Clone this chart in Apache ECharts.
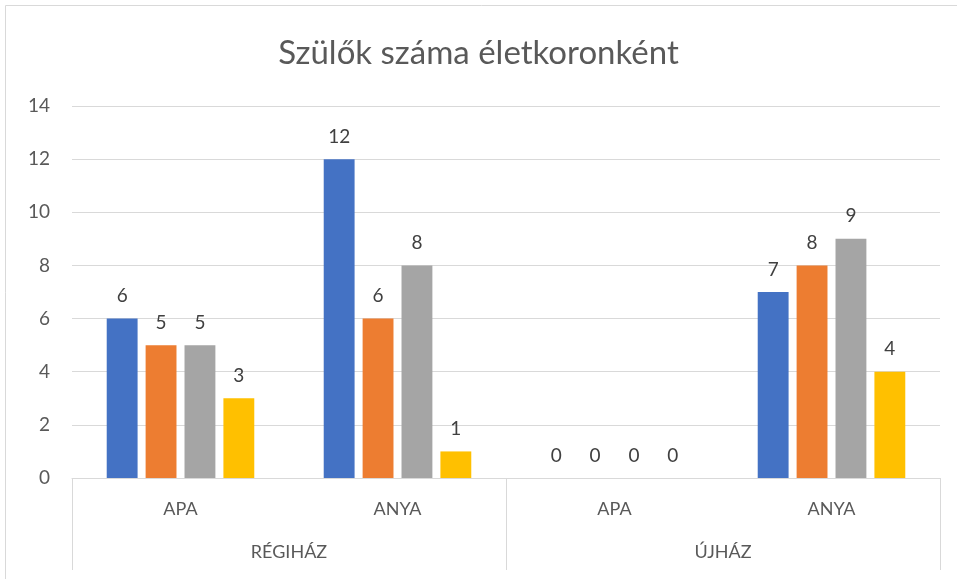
<!DOCTYPE html>
<html>
<head>
<meta charset="utf-8">
<script src="https://cdn.jsdelivr.net/npm/echarts@6/dist/echarts.min.js"></script>
<style>
  html, body { margin: 0; padding: 0; background: #fff; }
  #chart { width: 957px; height: 579px; }
</style>
</head>
<body>
<div id="chart"></div>
<script>
var categories = ['APA', 'ANYA', 'APA', 'ANYA'];
var groups = ['RÉGIHÁZ', 'ÚJHÁZ'];
var series = [
    {name: '1', color: '#4472C4', data: [6, 12, 0, 7]},
    {name: '2', color: '#ED7D31', data: [5, 6, 0, 8]},
    {name: '3', color: '#A5A5A5', data: [5, 8, 0, 9]},
    {name: '4', color: '#FFC000', data: [3, 1, 0, 4]}
];

var myChart = echarts.init(document.getElementById('chart'));
var font = 'Lato, "Noto Sans", sans-serif';
var option = {
    textStyle: {fontFamily: font},
    title: {
        text: 'Szülők száma életkoronként',
        left: 'center',
        top: 32,
        textStyle: {color: '#595959', fontSize: 33, fontWeight: 'normal', fontFamily: font}
    },
    graphic: [{
        type: 'rect',
        shape: {x: 5.5, y: 5.5, width: 960, height: 580},
        style: {fill: 'none', stroke: '#D9D9D9', lineWidth: 1}
    }],
    grid: {left: 72, right: 17, top: 106, bottom: 101},
    xAxis: [
        {
            type: 'category',
            data: categories,
            axisLine: {lineStyle: {color: '#D9D9D9'}},
            axisTick: {show: false},
            axisLabel: {color: '#595959', fontSize: 18, margin: 22}
        },
        {
            type: 'category',
            position: 'bottom',
            data: groups,
            axisLine: {show: false},
            axisTick: {show: true, length: 92, lineStyle: {color: '#D9D9D9'}},
            axisLabel: {color: '#595959', fontSize: 18, margin: 65}
        }
    ],
    yAxis: {
        type: 'value',
        min: 0,
        max: 14,
        interval: 2,
        axisLine: {show: false},
        axisTick: {show: false},
        splitLine: {lineStyle: {color: '#D9D9D9'}},
        axisLabel: {color: '#595959', fontSize: 19, margin: 22}
    },
    series: series.map(function (s) {
        return {
            name: s.name,
            type: 'bar',
            xAxisIndex: 0,
            data: s.data,
            barGap: '26%',
            barCategoryGap: '32%',
            itemStyle: {color: s.color},
            label: {show: true, position: 'top', distance: 13, color: '#404040', fontSize: 19}
        };
    })
};
myChart.setOption(option);
</script>
</body>
</html>
